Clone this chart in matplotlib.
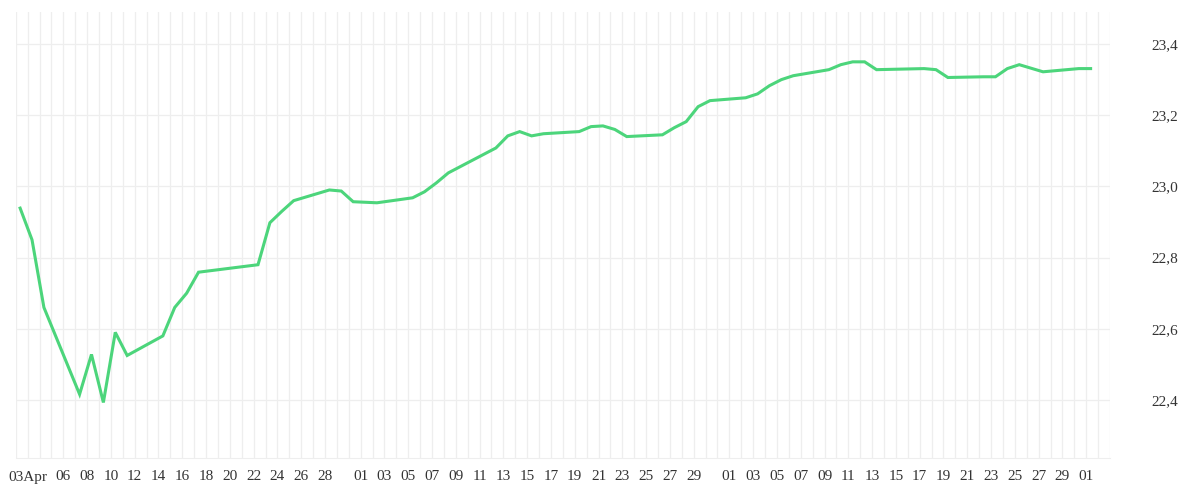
import matplotlib
matplotlib.use("Agg")
import matplotlib.pyplot as plt
import numpy as np
import pandas as pd

start = pd.Timestamp("2020-04-02")
# day offsets from Apr 2 (point time ~09:00)
days = [0, 1, 2, 5, 6, 7, 8, 9, 12, 13, 14, 15, 20, 21, 22, 23, 26, 27, 28, 30,
        33, 34, 35, 36, 40, 41, 42, 43, 44, 47, 48, 49, 50, 51, 54, 55, 56, 57, 58,
        61, 62, 63, 64, 65, 68, 69, 70, 71, 72, 76, 77, 78, 81, 82, 83, 84, 86, 89, 90]
values = [22.939, 22.85, 22.66, 22.416, 22.528, 22.393, 22.59, 22.525, 22.58, 22.66,
          22.70, 22.759, 22.78, 22.898, 22.93, 22.96, 22.99, 22.987, 22.957, 22.954,
          22.968, 22.985, 23.01, 23.038, 23.108, 23.142, 23.154, 23.142, 23.148, 23.154,
          23.168, 23.17, 23.16, 23.14, 23.145, 23.165, 23.182, 23.224, 23.241, 23.249,
          23.26, 23.283, 23.30, 23.311, 23.328, 23.342, 23.35, 23.35, 23.328, 23.331,
          23.328, 23.306, 23.308, 23.308, 23.331, 23.342, 23.322, 23.331, 23.331]
time_of_day = 0.37

tick_dates = (["2020-04-03"] + [f"2020-04-{d:02d}" for d in range(6, 29, 2)]
              + [f"2020-05-{d:02d}" for d in range(1, 30, 2)]
              + [f"2020-06-{d:02d}" for d in range(1, 30, 2)] + ["2020-07-01"])
tick_labels = (["03Apr"] + [f"{d:02d}" for d in range(6, 29, 2)]
               + [f"{d:02d}" for d in range(1, 30, 2)]
               + [f"{d:02d}" for d in range(1, 30, 2)] + ["01"])
yticks = [22.4, 22.6, 22.8, 23.0, 23.2, 23.4]

plt.rcParams['font.family'] = ['Liberation Serif', 'DejaVu Serif']
fig = plt.figure(figsize=(12, 5), dpi=100)
ax = fig.add_axes([0.0131, 0.084, 0.9119, 0.892])

x = np.array(days) + time_of_day
ax.plot(x, values, color="#4cd57b", lw=2.2, solid_joinstyle="miter")

ax.set_xlim(0, 92)
ax.set_ylim(22.237, 23.49)
ax.set_xticks(np.arange(0, 93), minor=True)
tpos = [(pd.Timestamp(d) - start).days for d in tick_dates]
ax.set_xticks(tpos)
ax.set_xticklabels(tick_labels, fontsize=11, color="#333333")
ax.set_yticks(yticks)
ax.set_yticklabels([f"{v:.1f}".replace(".", ",") for v in yticks], fontsize=11, color="#333333")
ax.yaxis.tick_right()
ax.tick_params(axis="both", which="both", length=0)
ax.tick_params(axis="y", pad=30)
ax.tick_params(axis="x", pad=9)
ax.grid(True, which="both", axis="x", color="#eeeeee", lw=0.9)
ax.grid(True, which="major", axis="y", color="#eeeeee", lw=0.9)
for s in ["top", "right", "left"]:
    ax.spines[s].set_visible(False)
ax.spines["bottom"].set_color("#eeeeee")
ax.set_axisbelow(True)
fig.savefig("out.png", dpi=100, facecolor="white")
